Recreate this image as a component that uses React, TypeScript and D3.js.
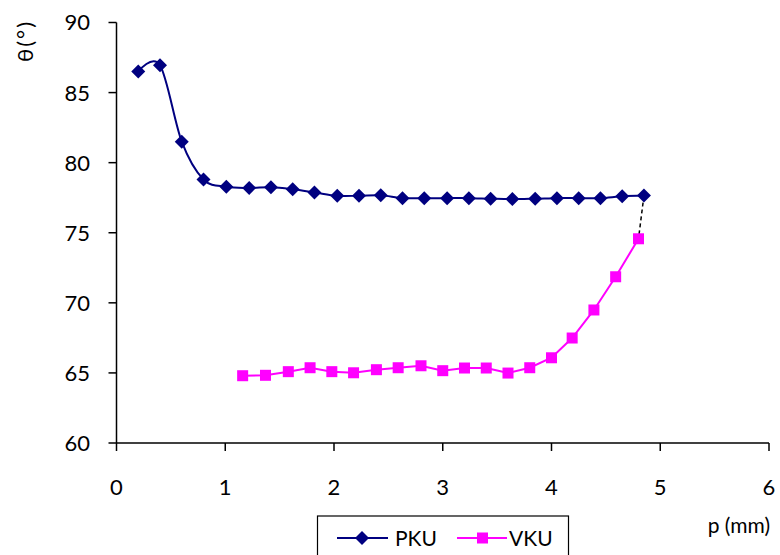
import React from "react";
import * as d3 from "d3";

const pkuX = [0.2, 0.4, 0.6, 0.8, 1.01, 1.22, 1.42, 1.62, 1.82, 2.03, 2.23, 2.43, 2.63, 2.83, 3.04, 3.24, 3.44, 3.64, 3.85, 4.05, 4.25, 4.45, 4.65, 4.85];
const pkuY = [86.5, 86.95, 81.5, 78.8, 78.28, 78.2, 78.24, 78.1, 77.88, 77.64, 77.64, 77.67, 77.47, 77.47, 77.47, 77.47, 77.43, 77.4, 77.43, 77.47, 77.47, 77.47, 77.6, 77.65];
const vkuX = [1.16, 1.37, 1.58, 1.78, 1.98, 2.18, 2.39, 2.59, 2.8, 3.0, 3.2, 3.4, 3.6, 3.8, 4.0, 4.19, 4.39, 4.59, 4.8];
const vkuY = [64.8, 64.83, 65.09, 65.37, 65.09, 65.01, 65.23, 65.37, 65.51, 65.16, 65.35, 65.35, 64.99, 65.37, 66.08, 67.49, 69.49, 71.86, 74.57];
const xTicks = [0, 1, 2, 3, 4, 5, 6];
const yTicks = [60, 65, 70, 75, 80, 85, 90];
const seriesNames = ["PKU", "VKU"];

const W = 780, H = 555;
const FONT = "Lato, 'Open Sans', sans-serif";

export default function App() {
  const x = d3.scaleLinear().domain([0, 6]).range([116.5, 769]);
  const y = d3.scaleLinear().domain([60, 90]).range([443, 22.5]);
  const pku = pkuX.map((v, i) => [v, pkuY[i]] as [number, number]);
  const vku = vkuX.map((v, i) => [v, vkuY[i]] as [number, number]);
  const smooth = d3.line<[number, number]>().x(d => x(d[0])).y(d => y(d[1])).curve(d3.curveCardinal.tension(0));
  const straight = d3.line<[number, number]>().x(d => x(d[0])).y(d => y(d[1]));
  const diamond = (cx: number, cy: number, r: number) => `M${cx},${cy - r}L${cx + r},${cy}L${cx},${cy + r}L${cx - r},${cy}Z`;
  const lastP = pku[pku.length - 1];
  const lastV = vku[vku.length - 1];
  const navy = "#000080";
  const mag = "#FF00FF";
  return (
    <svg width={W} height={H} style={{ position: "absolute", left: 0, top: 0, display: "block" }} fontFamily={FONT}>
      <rect width={W} height={H} fill="#fff" />
      {/* axes */}
      <line x1={x(0)} x2={x(6)} y1={y(60)} y2={y(60)} stroke="#000" strokeWidth={1.5} />
      <line x1={x(0)} x2={x(0)} y1={y(60)} y2={y(90)} stroke="#000" strokeWidth={1.5} />
      {yTicks.map(t => (
        <g key={"y" + t}>
          <line x1={x(0) - 8} x2={x(0)} y1={y(t)} y2={y(t)} stroke="#000" strokeWidth={1.5} />
          <text x={90} y={y(t)} dy="0.36em" textAnchor="end" fontSize={22} fill="#000">{t}</text>
        </g>
      ))}
      {xTicks.map(t => (
        <g key={"x" + t}>
          <line x1={x(t)} x2={x(t)} y1={y(60)} y2={y(60) + 8} stroke="#000" strokeWidth={1.5} />
          <text x={x(t)} y={495} textAnchor="middle" fontSize={22} fill="#000">{t}</text>
        </g>
      ))}
      <text transform="translate(33,41) rotate(-90)" textAnchor="middle" fontSize={22} letterSpacing={2} fill="#000">θ(°)</text>
      <text x={770} y={533} textAnchor="end" fontSize={21} fill="#000">p (mm)</text>
      {/* dashed connector */}
      <line x1={x(lastP[0])} y1={y(lastP[1])} x2={x(lastV[0])} y2={y(lastV[1])} stroke="#000" strokeWidth={1.5} strokeDasharray="4,3" />
      {/* series */}
      <path d={smooth(pku) || ""} fill="none" stroke={navy} strokeWidth={2} />
      {pku.map((d, i) => <path key={"p" + i} d={diamond(x(d[0]), y(d[1]), 7)} fill={navy} />)}
      <path d={straight(vku) || ""} fill="none" stroke={mag} strokeWidth={2} />
      {vku.map((d, i) => <rect key={"v" + i} x={x(d[0]) - 5.5} y={y(d[1]) - 5.5} width={11} height={11} fill={mag} />)}
      {/* legend */}
      <rect x={317.5} y={516} width={251} height={50} fill="#fff" stroke="#000" strokeWidth={1.2} />
      <line x1={337} x2={388} y1={538} y2={538} stroke={navy} strokeWidth={2} />
      <path d={diamond(362, 538, 7)} fill={navy} />
      <text x={395} y={538} dy="0.36em" fontSize={21} fill="#000">{seriesNames[0]}</text>
      <line x1={457} x2={507} y1={538} y2={538} stroke={mag} strokeWidth={2} />
      <rect x={477} y={532.5} width={11} height={11} fill={mag} />
      <text x={509} y={538} dy="0.36em" fontSize={21} fill="#000">{seriesNames[1]}</text>
    </svg>
  );
}
